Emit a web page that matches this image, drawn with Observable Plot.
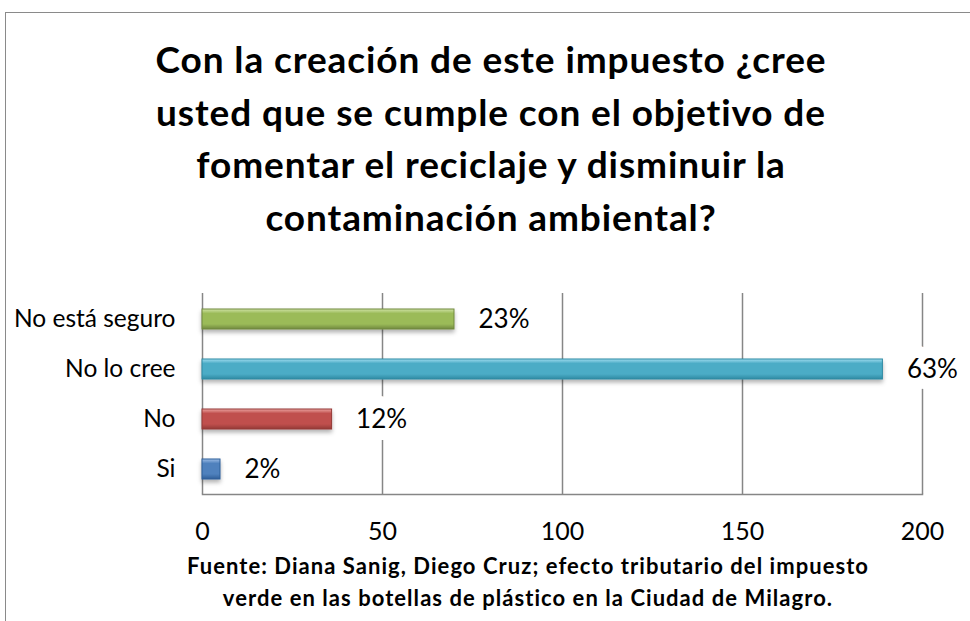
<!DOCTYPE html>
<html>
<head>
<meta charset="utf-8">
<script src="https://cdn.jsdelivr.net/npm/d3@7"></script>
<script src="https://cdn.jsdelivr.net/npm/@observablehq/plot@0.6"></script>
<style>
  html, body { margin: 0; padding: 0; background: #fff; width: 970px; height: 621px; overflow: hidden; }
  #wrap { position: relative; width: 970px; height: 621px; font-family: Lato, "Open Sans", sans-serif; color: #000; }
  #frame { position: absolute; left: 5px; top: 12px; width: 1100px; height: 800px;
           border-top: 1.5px solid #8a8a8a; border-left: 1.5px solid #8a8a8a; box-sizing: border-box; }
  #title { position: absolute; left: 0; top: 33px; width: 982px; text-align: center; white-space: nowrap;
           font-weight: bold; font-size: 37px; letter-spacing: 0.9px; line-height: 52.7px; }
  #chart { position: absolute; left: 0; top: 270px; }
  #caption { position: absolute; left: 28px; top: 550px; width: 1000px; text-align: center; white-space: nowrap;
             font-weight: bold; font-size: 22px; letter-spacing: 1.05px; line-height: 31.5px; }
</style>
</head>
<body>
<div id="wrap">
  <div id="frame"></div>
  <div id="title"></div>
  <div id="chart"></div>
  <div id="caption"></div>
</div>
<script>
// ---- data ----
const titleLines = [
  "Con la creación de este impuesto ¿cree",
  "usted que se cumple con el objetivo de",
  "fomentar el reciclaje y disminuir la",
  "contaminación ambiental?"
];
const captionLines = [
  "Fuente: Diana Sanig, Diego Cruz; efecto tributario del impuesto",
  "verde en las botellas de plástico en la Ciudad de Milagro."
];
const categories = ["No está seguro", "No lo cree", "No", "Si"];
const counts = [70, 189, 36, 5];
const percentLabels = ["23%", "63%", "12%", "2%"];
const baseColors = ["#9bbb59", "#4bacc6", "#c0504d", "#4f81bd"];
const lightColors = ["#d0e3a6", "#9fdcef", "#eca3a1", "#9dbde6"];
const darkColors = ["#71893f", "#2f8aa3", "#943a37", "#2f5f99"];
const xTicks = [0, 50, 100, 150, 200];

const data = categories.map((c, i) => ({
  cat: c, value: counts[i], label: percentLabels[i], grad: `url(#grad${i})`, dark: darkColors[i]
}));

document.getElementById("title").innerHTML = titleLines.join("<br>");
document.getElementById("caption").innerHTML = captionLines.join("<br>");

const plot = Plot.plot({
  width: 970,
  height: 280,
  marginLeft: 202,
  marginRight: 48,
  marginTop: 23,
  marginBottom: 56,
  style: { fontFamily: "Lato, 'Open Sans', sans-serif", color: "#000", background: "transparent" },
  x: { domain: [0, 200], ticks: xTicks },
  y: { domain: categories, paddingInner: 0.6, paddingOuter: 0.3 },
  color: { type: "identity" },
  marks: [
    Plot.ruleX(xTicks, { x: d => d, stroke: "#868686", strokeWidth: 1.5 }),
    Plot.frame({ anchor: "bottom", stroke: "#868686", strokeWidth: 1.5 }),
    Plot.barX(data, { x: "value", y: "cat", fill: "grad", stroke: "dark", strokeWidth: 1, className: "bars" }),
    Plot.text(data, {
      x: "value", y: "cat", text: "label", textAnchor: "start", dx: 24,
      fontSize: 26, fill: "#000", stroke: "white", strokeWidth: 24, strokeLinejoin: "round", paintOrder: "stroke"
    }),
    Plot.axisY({ tickSize: 0, tickPadding: 27, fontSize: 24.5, label: null }),
    Plot.axisX({ ticks: xTicks, tickSize: 0, tickPadding: 28, fontSize: 25, label: null })
  ]
});

// gradient + shadow definitions for the bevelled bars
const svg = d3.select(plot);
const defs = svg.insert("defs", ":first-child");
baseColors.forEach((c, i) => {
  const g = defs.append("linearGradient").attr("id", `grad${i}`)
    .attr("x1", 0).attr("y1", 0).attr("x2", 0).attr("y2", 1);
  g.append("stop").attr("offset", "0%").attr("stop-color", lightColors[i]);
  g.append("stop").attr("offset", "22%").attr("stop-color", c);
  g.append("stop").attr("offset", "75%").attr("stop-color", c);
  g.append("stop").attr("offset", "100%").attr("stop-color", darkColors[i]);
});
const f = defs.append("filter").attr("id", "shadow").attr("x", "-10%").attr("y", "-50%").attr("width", "120%").attr("height", "250%");
f.append("feDropShadow").attr("dx", 0).attr("dy", 3).attr("stdDeviation", 2).attr("flood-color", "#000").attr("flood-opacity", 0.3);
svg.selectAll("g.bars").attr("filter", "url(#shadow)");

document.getElementById("chart").appendChild(plot);
</script>
</body>
</html>
